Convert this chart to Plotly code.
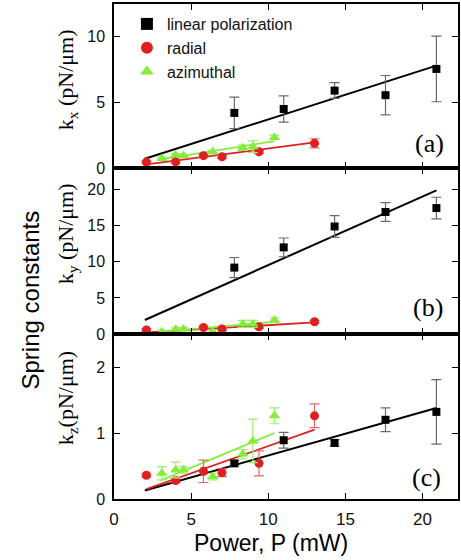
import plotly.graph_objects as go
from plotly.subplots import make_subplots

# ---------------- data ----------------
power_lin = [7.8, 11.0, 14.3, 17.6, 20.9]
power_rad = [2.1, 4.0, 5.8, 7.0, 9.4, 13.0]
power_azi = [3.1, 4.0, 4.5, 6.4, 8.35, 9.0, 10.4]

kx_lin = [4.2, 4.5, 5.9, 5.55, 7.55]
kx_lin_err = [1.2, 1.0, 0.6, 1.5, 2.5]
kx_rad = [0.45, 0.48, 0.94, 0.86, 1.24, 1.88]
kx_rad_err = [0.1, 0.1, 0.1, 0.1, 0.1, 0.35]
kx_azi = [0.73, 0.99, 0.94, 1.24, 1.55, 1.62, 2.33]
kx_azi_err = [0.1, 0.1, 0.1, 0.1, 0.2, 0.45, 0.15]

ky_lin = [9.2, 12.0, 14.9, 16.9, 17.45]
ky_lin_err = [1.4, 1.3, 1.5, 1.3, 1.5]
ky_rad = [0.55, 0.25, 0.9, 0.7, 1.0, 1.7]
ky_rad_err = [0.2, 0.2, 0.2, 0.2, 0.2, 0.2]
ky_azi = [0.3, 0.65, 0.7, 0.3, 1.4, 1.4, 1.95]
ky_azi_err = [0.2, 0.2, 0.2, 0.2, 0.5, 0.5, 0.3]

kz_lin = [0.54, 0.89, 0.85, 1.2, 1.32]
kz_lin_err = [0.04, 0.12, 0.05, 0.18, 0.49]
kz_rad = [0.36, 0.28, 0.42, 0.40, 0.54, 1.26]
kz_rad_err = [0.03, 0.03, 0.17, 0.06, 0.19, 0.18]
kz_azi = [0.39, 0.44, 0.44, 0.34, 0.68, 0.88, 1.26]
kz_azi_err = [0.1, 0.12, 0.05, 0.05, 0.07, 0.33, 0.12]

# linear-fit end points
fit_x_lin = [2.0, 20.9]
fit_x_rad = [2.1, 13.0]
fit_x_azi = [3.0, 10.4]
fit_kx_lin = [0.7, 7.8]
fit_kx_rad = [0.28, 1.95]
fit_kx_azi = [0.66, 2.05]
fit_ky_lin = [1.94, 19.9]
fit_ky_rad = [0.23, 1.6]
fit_ky_azi = [0.3, 1.7]
fit_kz_lin = [0.13, 1.38]
fit_kz_rad = [0.15, 1.05]
fit_kz_azi = [0.28, 1.0]

series_names = ["linear polarization", "radial", "azimuthal"]
x_ticks = [0, 5, 10, 15, 20]
y_ticks = [[0, 5, 10], [0, 5, 10, 15, 20], [0, 1, 2]]
y_ranges = [[0, 12.5], [0, 23], [0, 2.5]]
panel_labels = ["(a)", "(b)", "(c)"]
y_titles = ["k<sub>x</sub> (pN/\u03bcm)", "k<sub>y</sub> (pN/\u03bcm)", "k<sub>z</sub>(pN/\u03bcm)"]

# ---------------- styles ----------------
BLACK = "#000000"
RED = "#e02020"
GREEN = "#86ec3c"
ERR_BLACK = "#6a6a6a"
ERR_RED = "#e06a6a"
ERR_GREEN = "#9cf070"
SANS = "Liberation Sans, Arial, sans-serif"
SERIF = "Liberation Serif, Times New Roman, serif"

W, H = 461, 560
ML, MR, MT, MB = 114, 1, 4, 61
PW, PH = W - ML - MR, H - MT - MB


def px_x(p):
    return (p - ML) / PW


def px_y(p):
    return (H - MB - p) / PH


fig = make_subplots(rows=3, cols=1, shared_xaxes=True, vertical_spacing=0)

panels = [
    (kx_lin, kx_lin_err, kx_rad, kx_rad_err, kx_azi, kx_azi_err, fit_kx_lin, fit_kx_rad, fit_kx_azi),
    (ky_lin, ky_lin_err, ky_rad, ky_rad_err, ky_azi, ky_azi_err, fit_ky_lin, fit_ky_rad, fit_ky_azi),
    (kz_lin, kz_lin_err, kz_rad, kz_rad_err, kz_azi, kz_azi_err, fit_kz_lin, fit_kz_rad, fit_kz_azi),
]

for i, (yl, el, yr, er, ya, ea, fl, fr, fa) in enumerate(panels):
    row = i + 1
    # fit lines
    fig.add_trace(go.Scatter(x=fit_x_lin, y=fl, mode="lines", line=dict(color=BLACK, width=2),
                             showlegend=False, hoverinfo="skip"), row=row, col=1)
    fig.add_trace(go.Scatter(x=fit_x_rad, y=fr, mode="lines", line=dict(color=RED, width=1.8),
                             showlegend=False, hoverinfo="skip"), row=row, col=1)
    fig.add_trace(go.Scatter(x=fit_x_azi, y=fa, mode="lines", line=dict(color=GREEN, width=1.8),
                             showlegend=False, hoverinfo="skip"), row=row, col=1)
    # data points
    fig.add_trace(go.Scatter(x=power_lin, y=yl, mode="markers", name=series_names[0],
                             legendgroup="lin", showlegend=(i == 0),
                             marker=dict(symbol="square", size=8, color=BLACK),
                             error_y=dict(type="data", array=el, color=ERR_BLACK, thickness=1.2, width=5)),
                  row=row, col=1)
    fig.add_trace(go.Scatter(x=power_rad, y=yr, mode="markers", name=series_names[1],
                             legendgroup="rad", showlegend=(i == 0),
                             marker=dict(symbol="circle", size=9, color=RED),
                             error_y=dict(type="data", array=er, color=ERR_RED, thickness=1.2, width=5)),
                  row=row, col=1)
    fig.add_trace(go.Scatter(x=power_azi, y=ya, mode="markers", name=series_names[2],
                             legendgroup="azi", showlegend=(i == 0),
                             marker=dict(symbol="triangle-up", size=10, color=GREEN),
                             error_y=dict(type="data", array=ea, color=ERR_GREEN, thickness=1.2, width=5)),
                  row=row, col=1)

axis_common = dict(showline=True, linecolor=BLACK, linewidth=1.5, mirror="allticks",
                   ticks="inside", ticklen=6, tickwidth=1.3, tickcolor=BLACK,
                   showgrid=False, zeroline=False)

domains = [[px_y(168), 1.0], [px_y(334), px_y(168)], [0.0, px_y(334)]]

for i in range(3):
    row = i + 1
    fig.update_xaxes(range=[0, 22.3], tickvals=x_ticks, showticklabels=(i == 2),
                     tickfont=dict(family=SANS, size=17, color="#111"),
                     ticklabelstandoff=4, **axis_common, row=row, col=1)
    fig.update_yaxes(range=y_ranges[i], tickvals=y_ticks[i], domain=domains[i],
                     tickfont=dict(family=SANS, size=16, color="#111"),
                     ticklabelstandoff=4, **axis_common, row=row, col=1)

annotations = []
# panel labels
for lab, (cx, cy) in zip(panel_labels, [(431, 143), (430, 307), (428, 477)]):
    annotations.append(dict(text=lab, x=px_x(cx), y=px_y(cy), xref="paper", yref="paper",
                            xanchor="center", yanchor="middle", showarrow=False,
                            font=dict(family=SERIF, size=26, color=BLACK)))
# y titles
for t, cy in zip(y_titles, [80, 234, 398]):
    annotations.append(dict(text=t, x=px_x(67), y=px_y(cy), xref="paper", yref="paper",
                            xanchor="center", yanchor="middle", showarrow=False, textangle=-90,
                            font=dict(family=SERIF, size=22, color=BLACK)))
annotations.append(dict(text="Spring constants", x=px_x(30), y=px_y(300), xref="paper", yref="paper",
                        xanchor="center", yanchor="middle", showarrow=False, textangle=-90,
                        font=dict(family=SANS, size=24, color=BLACK)))
annotations.append(dict(text="Power, P (mW)", x=px_x(272), y=px_y(543), xref="paper", yref="paper",
                        xanchor="center", yanchor="middle", showarrow=False,
                        font=dict(family=SANS, size=23, color=BLACK)))

fig.update_layout(
    width=W, height=H,
    margin=dict(l=ML, r=MR, t=MT, b=MB, pad=0),
    paper_bgcolor="white", plot_bgcolor="white",
    annotations=annotations,
    legend=dict(x=px_x(127), y=px_y(7), xanchor="left", yanchor="top",
                bgcolor="rgba(0,0,0,0)", borderwidth=0,
                font=dict(family=SANS, size=16, color="#111"),
                tracegroupgap=0, itemsizing="constant"),
    showlegend=True,
)

fig.write_html("out.html", config={"displayModeBar": False},
               post_script="document.body.style.margin='0';document.body.style.padding='0';")
